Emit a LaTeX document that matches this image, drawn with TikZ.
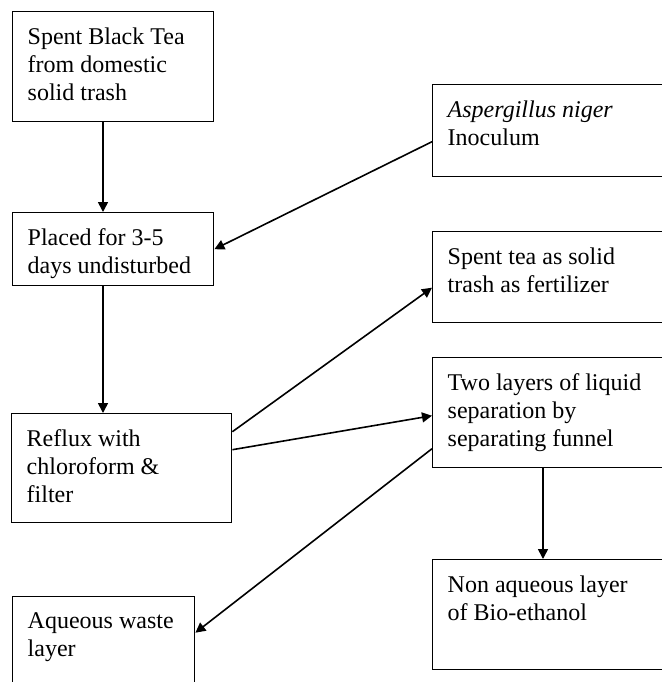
\documentclass[tikz,border=0pt]{standalone}
\usepackage{fontspec}
\setmainfont{Liberation Serif}
\usetikzlibrary{arrows.meta,positioning}
\newcommand{\boxtext}[3]{\parbox[t][#2][t]{#1}{\raggedright #3}}

\begin{document}
\begin{tikzpicture}[x=0.5pt,y=-0.5pt,
  every node/.style={font=\fontsize{12pt}{14pt}\selectfont},
  stage/.style={draw,line width=.7pt,anchor=north west,inner xsep=7.5pt,inner ysep=8pt},
  flow/.style={line width=.8pt,-{Triangle[length=5pt,width=5pt]}}]
\clip(0,0)rectangle(662,682);
\fill[white](0,0)rectangle(662,682);
% left column
\node[stage](spent)at(12,11){\boxtext{85.5pt}{39pt}{Spent Black Tea\\from domestic\\solid trash}};
\node[stage](placed)at(12,212){\boxtext{85.5pt}{20.5pt}{Placed for 3-5\\days undisturbed}};
\node[stage](reflux)at(11,413){\boxtext{95pt}{38.5pt}{Reflux with\\chloroform \&\\filter}};
\node[stage](aqueous)at(12,596){\boxtext{76pt}{34pt}{Aqueous waste\\layer}};
% right column
\node[stage](inoc)at(432,84){\boxtext{105pt}{30pt}{\textit{Aspergillus niger}\\Inoculum}};
\node[stage](fert)at(432,231){\boxtext{105pt}{29.5pt}{Spent tea as solid\\trash as fertilizer}};
\node[stage](funnel)at(432,357){\boxtext{105pt}{39pt}{Two layers of liquid\\separation by\\separating funnel}};
\node[stage](ethanol)at(432,559){\boxtext{105pt}{39pt}{Non aqueous layer\\of Bio-ethanol}};
% connectors
\coordinate(downL)at(103,0);\coordinate(downR)at(543,0);
\draw[flow](spent.south-|downL)--(placed.north-|downL);
\draw[flow](placed.south-|downL)--(reflux.north-|downL);
\draw[flow]([yshift=-5.5pt]inoc.west)--(placed.east);
\draw[flow]([yshift=18.25pt]reflux.east)--([yshift=-5.25pt]fert.west);
\draw[flow]([yshift=9.25pt]reflux.east)--([yshift=-1.5pt]funnel.west);
\draw[flow]([yshift=-18pt]funnel.west)--([yshift=7pt]aqueous.east);
\draw[flow](funnel.south-|downR)--(ethanol.north-|downR);
\end{tikzpicture}
\end{document}
